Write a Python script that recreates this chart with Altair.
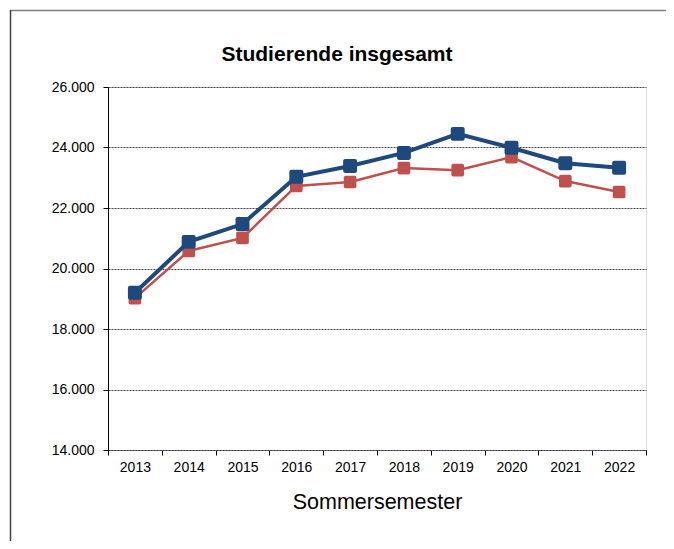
import altair as alt
import pandas as pd

years = ["2013", "2014", "2015", "2016", "2017", "2018", "2019", "2020", "2021", "2022"]
blue_vals = [19200, 20880, 21470, 23030, 23390, 23820, 24450, 23990, 23480, 23330]
red_vals = [19020, 20580, 21010, 22730, 22860, 23320, 23250, 23680, 22890, 22530]
series_names = ["Reihe 1", "Reihe 2"]
y_ticks = [14000, 16000, 18000, 20000, 22000, 24000, 26000]

rows = []
for name, vals in zip(series_names, [blue_vals, red_vals]):
    for yr, v in zip(years, vals):
        rows.append({"Jahr": yr, "Wert": v, "Serie": name})
df = pd.DataFrame(rows)

BLUE = "#1F497D"
RED = "#C0504D"
FONT = "Liberation Sans"

rounded_square = ("M -0.7 -1 L 0.7 -1 Q 1 -1 1 -0.7 L 1 0.7 Q 1 1 0.7 1 "
                  "L -0.7 1 Q -1 1 -1 0.7 L -1 -0.7 Q -1 -1 -0.7 -1 Z")

x_enc = alt.X("Jahr:N", sort=years,
              scale=alt.Scale(paddingInner=0, paddingOuter=0),
              axis=alt.Axis(title="Sommersemester", tickBand="extent", labelAngle=0,
                            labelFontSize=14, labelFont=FONT, labelColor="#000",
                            labelPadding=5, titleFontSize=21.5, titleFont=FONT,
                            titleFontWeight="normal", titleColor="#000", titlePadding=17,
                            tickColor="#000", tickSize=5, domainColor="#333",
                            domainDash=[2, 1], grid=False))
y_enc = alt.Y("Wert:Q", scale=alt.Scale(domain=[14000, 26000], nice=False),
              axis=alt.Axis(title=None, values=y_ticks,
                            labelExpr="replace(format(datum.value, ',d'), ',', '.')",
                            labelFontSize=14, labelFont=FONT, labelColor="#000",
                            labelPadding=9, tickColor="#000", tickSize=5,
                            domainColor="#000", grid=True, gridColor="#444",
                            gridDash=[2, 1], gridWidth=1))

def series_layer(name, color, width, size):
    d = df[df["Serie"] == name]
    base = alt.Chart(d).encode(x=x_enc, y=y_enc)
    line = base.mark_line(color=color, strokeWidth=width)
    pts = base.mark_point(shape=rounded_square, filled=True, color=color, opacity=1, size=size)
    return line + pts

frame_top = alt.Chart(pd.DataFrame({"a": [0]})).mark_rule(color="#808080", strokeWidth=1.5, clip=False).encode(
    x=alt.value(-98), x2=alt.value(570), y=alt.value(-76.5))
frame_left = alt.Chart(pd.DataFrame({"a": [0]})).mark_rule(color="#404040", strokeWidth=1.5, clip=False).encode(
    x=alt.value(-97.5), y=alt.value(-77), y2=alt.value(470))

chart = alt.layer(
    frame_top, frame_left,
    series_layer("Reihe 2", RED, 2.5, 160),
    series_layer("Reihe 1", BLUE, 4, 195),
).properties(
    width=538, height=363,
    title=alt.TitleParams("Studierende insgesamt", fontSize=21, font=FONT, fontWeight="bold",
                          color="#000", anchor="middle", frame="group", dx=-40, offset=-56),
    autosize=alt.AutoSizeParams(type="none"),
    padding={"left": 100, "top": 79, "right": 20, "bottom": 91},
).configure_view(stroke=None).configure(background="white")

chart.save("out.html", embed_options={"renderer": "svg", "actions": False})
